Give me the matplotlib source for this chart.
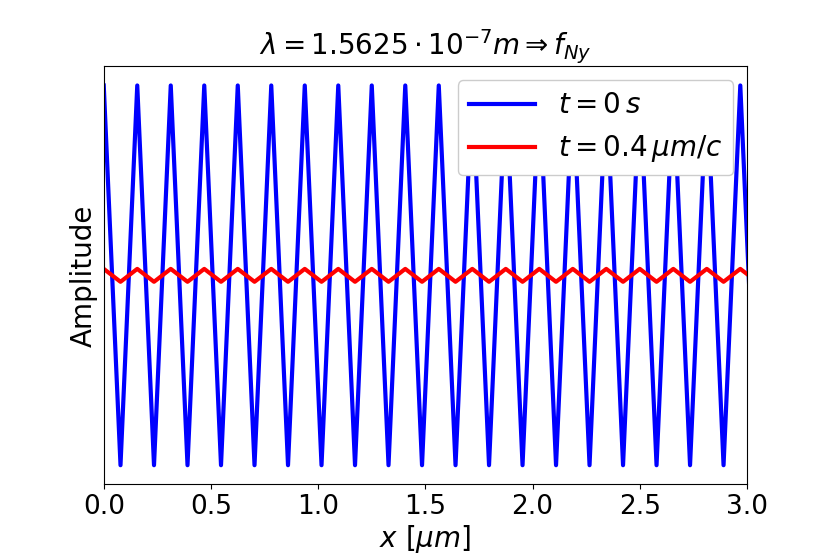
import matplotlib
matplotlib.use("Agg")
import matplotlib.pyplot as plt

# grid points (um), spacing lambda/2
x_um = [0.0, 0.078125, 0.15625, 0.234375, 0.3125, 0.390625, 0.46875, 0.546875,
        0.625, 0.703125, 0.78125, 0.859375, 0.9375, 1.015625, 1.09375, 1.171875,
        1.25, 1.328125, 1.40625, 1.484375, 1.5625, 1.640625, 1.71875, 1.796875,
        1.875, 1.953125, 2.03125, 2.109375, 2.1875, 2.265625, 2.34375, 2.421875,
        2.5, 2.578125, 2.65625, 2.734375, 2.8125, 2.890625, 2.96875, 3.046875]

# amplitude at t = 0
amp_t0 = [1, -1, 1, -1, 1, -1, 1, -1, 1, -1, 1, -1, 1, -1, 1, -1, 1, -1, 1, -1,
          1, -1, 1, -1, 1, -1, 1, -1, 1, -1, 1, -1, 1, -1, 1, -1, 1, -1, 1, -1]

# amplitude at t = 0.4 um/c
amp_t04 = [0.034, -0.034, 0.034, -0.034, 0.034, -0.034, 0.034, -0.034,
           0.034, -0.034, 0.034, -0.034, 0.034, -0.034, 0.034, -0.034,
           0.034, -0.034, 0.034, -0.034, 0.034, -0.034, 0.034, -0.034,
           0.034, -0.034, 0.034, -0.034, 0.034, -0.034, 0.034, -0.034,
           0.034, -0.034, 0.034, -0.034, 0.034, -0.034, 0.034, -0.034]

fig, ax = plt.subplots(figsize=(8.3, 5.54), dpi=100)
fig.subplots_adjust(left=0.125, right=0.9, top=0.88, bottom=0.126)

ax.plot(x_um, amp_t0, color="blue", lw=3, label=r"$t = 0\,s$")
ax.plot(x_um, amp_t04, color="red", lw=3, label=r"$t = 0.4\,\mu m/c$")

ax.set_xlim(0, 3.0)
ax.set_yticks([])
ax.tick_params(axis="x", labelsize=19)
ax.set_xlabel(r"$x\ [\mu m]$", fontsize=20, labelpad=2)
ax.set_ylabel("Amplitude", fontsize=20)
ax.set_title(r"$\lambda = 1.5625 \cdot 10^{-7} m \Rightarrow f_{Ny}$", fontsize=20)
ax.legend(loc="upper right", fontsize=20, framealpha=1, handlelength=2.4)

fig.savefig("out.png", dpi=100)
